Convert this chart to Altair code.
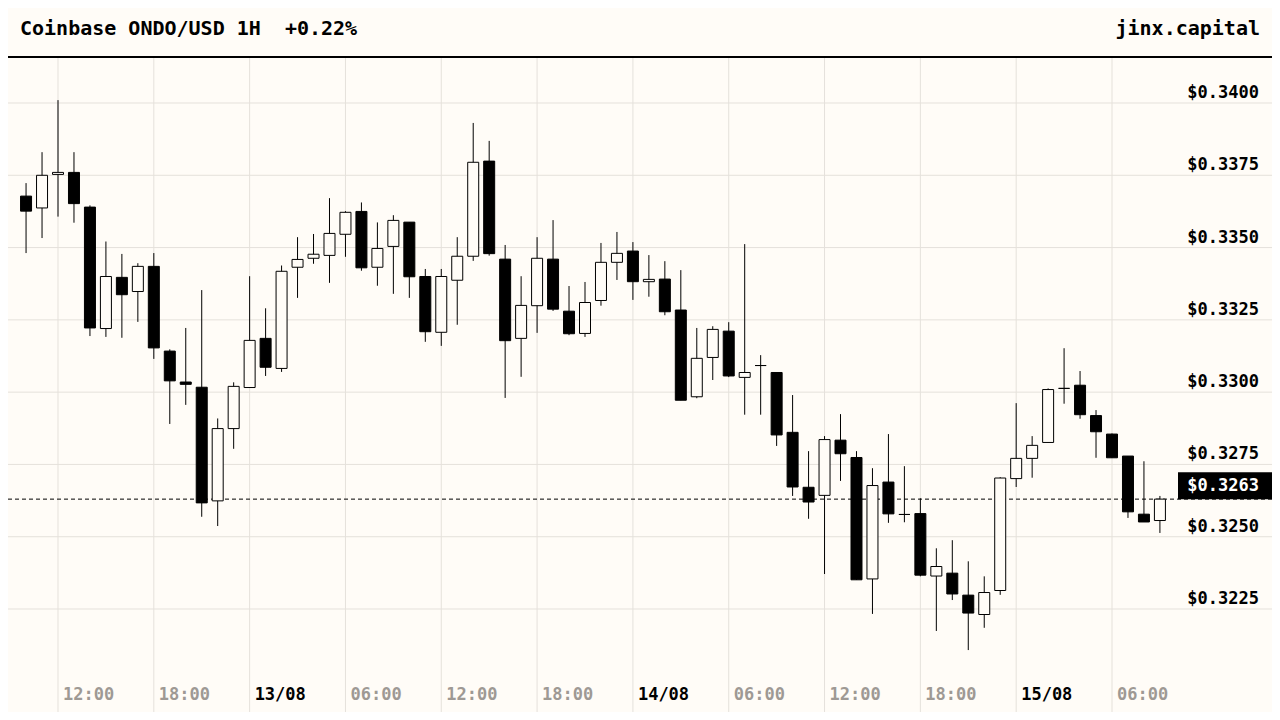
import altair as alt
import pandas as pd

# ---- data ----
# hour offsets from 12/08 00:00 (candles 12/08 10:00 .. 15/08 09:00, 1H)
hours = list(range(10, 82))

opens = [0.33678, 0.33637, 0.33753, 0.33760, 0.33640, 0.33220, 0.33397, 0.33348, 0.33435, 0.33142,
         0.33035, 0.33017, 0.32624, 0.32874, 0.33016, 0.33186, 0.33082, 0.33432, 0.33463, 0.33473,
         0.33546, 0.33625, 0.33432, 0.33504, 0.33588, 0.33400, 0.33207, 0.33387, 0.33470, 0.33799,
         0.33460, 0.33186, 0.33299, 0.33460, 0.33280, 0.33203, 0.33317, 0.33449, 0.33488, 0.33382,
         0.33391, 0.33284, 0.32984, 0.33120, 0.33211, 0.33051, 0.33092, 0.33068, 0.32861, 0.32671,
         0.32643, 0.32834, 0.32774, 0.32354, 0.32689, 0.32577, 0.32580, 0.32364, 0.32374, 0.32298,
         0.32231, 0.32314, 0.32701, 0.32771, 0.32826, 0.33013, 0.33024, 0.32919, 0.32855, 0.32779,
         0.32578, 0.32556]
highs = [0.33723, 0.33830, 0.34010, 0.33830, 0.33646, 0.33521, 0.33478, 0.33446, 0.33481, 0.33148,
         0.33222, 0.33353, 0.32909, 0.33034, 0.33401, 0.33290, 0.33438, 0.33536, 0.33547, 0.33671,
         0.33626, 0.33656, 0.33587, 0.33612, 0.33588, 0.33426, 0.33426, 0.33536, 0.33931, 0.33869,
         0.33509, 0.33401, 0.33536, 0.33595, 0.33367, 0.33381, 0.33516, 0.33554, 0.33519, 0.33474,
         0.33453, 0.33422, 0.33222, 0.33228, 0.33242, 0.33512, 0.33128, 0.33068, 0.32990, 0.32796,
         0.32848, 0.32924, 0.32796, 0.32737, 0.32855, 0.32744, 0.32633, 0.32460, 0.32488, 0.32415,
         0.32363, 0.32706, 0.32962, 0.32848, 0.33013, 0.33152, 0.33073, 0.32938, 0.32857, 0.32779,
         0.32761, 0.32641]
lows = [0.33481, 0.33533, 0.33607, 0.33586, 0.33194, 0.33191, 0.33188, 0.33243, 0.33115, 0.32890,
        0.32956, 0.32569, 0.32537, 0.32804, 0.33015, 0.33056, 0.33070, 0.33326, 0.33444, 0.33378,
        0.33468, 0.33420, 0.33368, 0.33340, 0.33326, 0.33174, 0.33160, 0.33233, 0.33454, 0.33472,
        0.32980, 0.33053, 0.33205, 0.33281, 0.33197, 0.33191, 0.33299, 0.33388, 0.33319, 0.33330,
        0.33266, 0.32972, 0.32979, 0.33042, 0.33052, 0.32922, 0.32922, 0.32814, 0.32641, 0.32562,
        0.32371, 0.32693, 0.32351, 0.32233, 0.32548, 0.32550, 0.32363, 0.32174, 0.32281, 0.32108,
        0.32185, 0.32299, 0.32672, 0.32704, 0.32826, 0.32960, 0.32908, 0.32773, 0.32773, 0.32565,
        0.32551, 0.32513]
closes = [0.33626, 0.33750, 0.33760, 0.33652, 0.33222, 0.33400, 0.33337, 0.33435, 0.33153, 0.33039,
          0.33027, 0.32617, 0.32874, 0.33020, 0.33179, 0.33086, 0.33418, 0.33459, 0.33477, 0.33549,
          0.33622, 0.33430, 0.33497, 0.33594, 0.33399, 0.33209, 0.33400, 0.33470, 0.33795, 0.33479,
          0.33178, 0.33300, 0.33463, 0.33287, 0.33202, 0.33310, 0.33449, 0.33480, 0.33382, 0.33390,
          0.33278, 0.32972, 0.33117, 0.33217, 0.33056, 0.33068, 0.33092, 0.32852, 0.32672, 0.32620,
          0.32836, 0.32787, 0.32351, 0.32677, 0.32579, 0.32577, 0.32367, 0.32397, 0.32302, 0.32236,
          0.32307, 0.32703, 0.32771, 0.32816, 0.33009, 0.33013, 0.32922, 0.32863, 0.32773, 0.32586,
          0.32551, 0.32630]

price_ticks = [0.3225, 0.3250, 0.3275, 0.3300, 0.3325, 0.3350, 0.3375, 0.3400]
time_ticks = [12, 18, 24, 30, 36, 42, 48, 54, 60, 66, 72, 78]
time_labels = ["12:00", "18:00", "13/08", "06:00", "12:00", "18:00",
               "14/08", "06:00", "12:00", "18:00", "15/08", "06:00"]
title_text = "Coinbase ONDO/USD 1H\u00a0\u00a0+0.22%"
brand_text = "jinx.capital"
last_price = 0.3263

# ---- style ----
BG = "#fffcf7"
GRID = "#e5e1db"
GRAY = "#9e9994"
FONT = "DejaVu Sans Mono"
W, H = 1264, 704

xs = alt.Scale(domain=[8.869, 88.019], nice=False, zero=False, padding=0)
ys = alt.Scale(domain=[0.318938, 0.3432856], nice=False, zero=False, padding=0)

df = pd.DataFrame({"t": hours, "open": opens, "high": highs, "low": lows, "close": closes})
df["fill"] = ["#fffcf7" if c >= o else "#000000" for o, c in zip(opens, closes)]

ticks_y = pd.DataFrame({"p": price_ticks, "label": [f"${p:.4f}" for p in price_ticks]})
ticks_x = pd.DataFrame({"t": time_ticks, "label": time_labels,
                        "color": ["#000000" if "/" in s else GRAY for s in time_labels]})
last_df = pd.DataFrame({"p": [last_price], "p2": [last_price + 27 / 28914.3],
                        "label": [f"${last_price:.4f}"]})
one = pd.DataFrame({"a": [0]})

hgrid = alt.Chart(ticks_y).mark_rule(color=GRID, strokeWidth=1).encode(
    y=alt.Y("p:Q", scale=ys, axis=None))
vgrid = alt.Chart(ticks_x).mark_rule(color=GRID, strokeWidth=1).encode(
    x=alt.X("t:Q", scale=xs, axis=None), y=alt.value(49), y2=alt.value(H))
header_line = alt.Chart(one).mark_rule(color="black", strokeWidth=2).encode(
    x=alt.value(0), x2=alt.value(W), y=alt.value(49))
dashed = alt.Chart(last_df).mark_rule(color="black", strokeWidth=1, strokeDash=[4, 3]).encode(
    y=alt.Y("p:Q", scale=ys, axis=None))

wicks = alt.Chart(df).mark_rule(color="black", strokeWidth=1).encode(
    x=alt.X("t:Q", scale=xs, axis=None),
    y=alt.Y("low:Q", scale=ys, axis=None),
    y2="high:Q")
bodies = alt.Chart(df).mark_bar(size=11, stroke="black", strokeWidth=1).encode(
    x=alt.X("t:Q", scale=xs, axis=None),
    y=alt.Y("open:Q", scale=ys, axis=None),
    y2="close:Q",
    fill=alt.Fill("fill:N", scale=None))

ylabels = alt.Chart(ticks_y).mark_text(
    align="right", baseline="alphabetic", dy=-5, font=FONT, fontSize=17,
    fontWeight="bold", color="black").encode(
    x=alt.value(1251), y=alt.Y("p:Q", scale=ys, axis=None), text="label:N")

price_box = alt.Chart(last_df).mark_rect(color="black").encode(
    x=alt.value(1170), x2=alt.value(W),
    y=alt.Y("p:Q", scale=ys, axis=None), y2="p2:Q")
price_text = alt.Chart(last_df).mark_text(
    align="right", baseline="alphabetic", dy=-8, font=FONT, fontSize=17,
    fontWeight="bold", color="white").encode(
    x=alt.value(1251), y=alt.Y("p:Q", scale=ys, axis=None), text="label:N")

xlabels = alt.Chart(ticks_x).mark_text(
    align="left", baseline="alphabetic", dx=5, font=FONT, fontSize=17,
    fontWeight="bold").encode(
    x=alt.X("t:Q", scale=xs, axis=None), y=alt.value(692), text="label:N",
    color=alt.Color("color:N", scale=None))

title = alt.Chart(pd.DataFrame({"s": [title_text]})).mark_text(
    align="left", baseline="alphabetic", font=FONT, fontSize=20,
    fontWeight="bold", color="black").encode(
    x=alt.value(12), y=alt.value(27), text="s:N")
brand = alt.Chart(pd.DataFrame({"s": [brand_text]})).mark_text(
    align="right", baseline="alphabetic", font=FONT, fontSize=20,
    fontWeight="bold", color="black").encode(
    x=alt.value(1252), y=alt.value(27), text="s:N")

chart = alt.layer(
    hgrid, vgrid, header_line, dashed, wicks, bodies,
    ylabels, price_box, price_text, xlabels, title, brand
).properties(
    width=W, height=H, padding=0, background=BG,
    autosize=alt.AutoSizeParams(type="none")
).configure_view(stroke=None)

chart.save("out.html", embed_options={"renderer": "svg", "actions": False})
